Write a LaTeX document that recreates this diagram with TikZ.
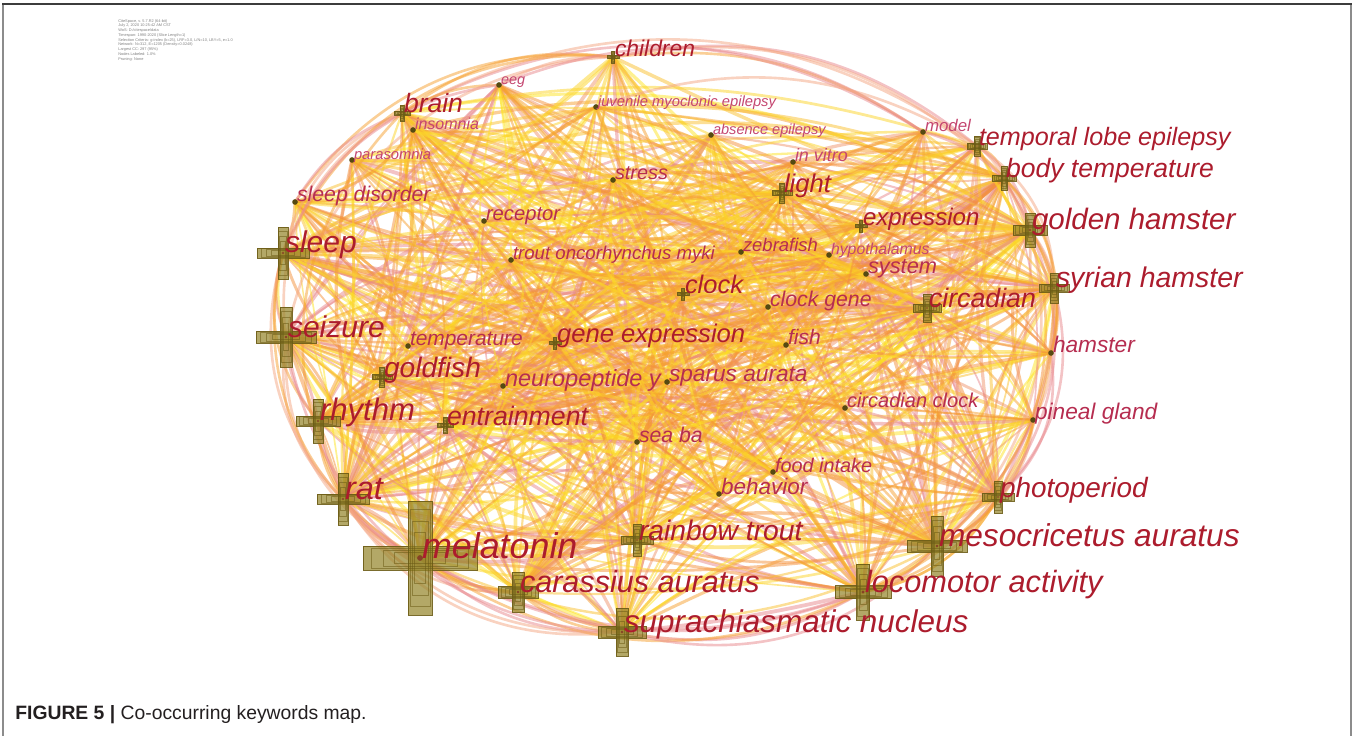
\documentclass[tikz,border=0pt]{standalone}
\usepackage{fontspec}
\setmainfont{Liberation Sans}
\usepackage{xcolor}

\definecolor{kwdark}{RGB}{172,28,45}
\definecolor{kwmid}{RGB}{182,45,80}
\definecolor{kwpink}{RGB}{196,70,112}
\definecolor{ec1}{RGB}{253,228,35}
\definecolor{ec2}{RGB}{252,212,40}
\definecolor{ec3}{RGB}{250,192,45}
\definecolor{ec4}{RGB}{246,160,48}
\definecolor{ec5}{RGB}{244,145,60}
\definecolor{ec6}{RGB}{240,150,110}
\definecolor{ec7}{RGB}{232,135,140}
\definecolor{ringcol}{RGB}{244,165,130}
\definecolor{crossfill}{RGB}{150,134,44}
\definecolor{crossline}{RGB}{108,92,22}
\definecolor{framedark}{RGB}{60,60,60}
\definecolor{framegray}{RGB}{140,140,140}
\definecolor{capgray}{RGB}{35,31,32}

\tikzstyle{edge} = [line cap=round, draw opacity=0.5]
\tikzstyle{cross} = [fill=crossfill, fill opacity=0.72, draw=crossline, draw opacity=0.9, line width=0.4pt]
\tikzstyle{ring} = [crossline, line width=0.3pt, opacity=0.55]
\tikzstyle{dot} = [fill=crossline!80!black, draw=none]
\tikzstyle{kwlabel} = [anchor=base west, inner sep=0pt, outer sep=0pt, xshift=0.4mm]

% name/x/y/arm/bar/size/colour/text  (first 20 are the hubs)
\def\kwlist{melatonin/420/558/57/24/20.4/kwdark/melatonin,
  suprachiasmatic/622/632/24/12/17.9/kwdark/suprachiasmatic nucleus,
  locomotor/863/592/28/13/17.5/kwdark/locomotor activity,
  mesocricetus/937/546/30/12/18/kwdark/mesocricetus auratus,
  carassius/518/592/20/12/17.4/kwdark/carassius auratus,
  rat/343/499/26/10/18.5/kwdark/rat,
  rhythm/318/421/22/10/17.7/kwdark/rhythm,
  seizure/286/337/30/12/17.1/kwdark/seizure,
  sleep/283/253/26/10/17.1/kwdark/sleep,
  goldenhamster/1030/230/17/10/16.8/kwdark/golden hamster,
  syrianhamster/1054/288/15/8/16.2/kwdark/syrian hamster,
  circadian/927/308/14/8/15.2/kwdark/circadian,
  light/782/193/10/5/14.6/kwdark/light,
  goldfish/382/377/10/5/16/kwdark/goldfish,
  rainbowtrout/637/540/16/8/16.1/kwdark/rainbow trout,
  photoperiod/998/497/16/8/15.9/kwdark/photoperiod,
  bodytemperature/1004/178/12/6/15.1/kwdark/body temperature,
  geneexpression/555/343/6/3/14.6/kwdark/gene expression,
  clock/683/294/6/3/14.5/kwdark/clock,
  entrainment/445/425/8/4/15.2/kwdark/entrainment,
  temporallobe/977/146/10/6/14.3/kwdark/temporal lobe epilepsy,
  children/613/57/6/3/13/kwdark/children,
  brain/402/113/8/4/15.1/kwdark/brain,
  expression/861/226/6/3/13.7/kwdark/expression,
  hamster/1051/353/0/0/12.9/kwmid/hamster,
  pinealgland/1033/420/0/0/12.9/kwmid/pineal gland,
  model/923/132/0/0/9.6/kwpink/model,
  eeg/499/85/0/0/8.2/kwpink/eeg,
  insomnia/413/130/0/0/9.1/kwpink/insomnia,
  parasomnia/352/160/0/0/8.4/kwpink/parasomnia,
  sleepdisorder/295/202/0/0/12.1/kwmid/sleep disorder,
  juvenile/596/107/0/0/8.4/kwpink/juvenile myoclonic epilepsy,
  absence/711/135/0/0/8.3/kwpink/absence epilepsy,
  invitro/793/162/0/0/10.2/kwpink/in vitro,
  stress/613/180/0/0/11.3/kwmid/stress,
  receptor/484/221/0/0/11.5/kwmid/receptor,
  zebrafish/741/252/0/0/10.5/kwmid/zebrafish,
  hypothalamus/829/255/0/0/9/kwpink/hypothalamus,
  trout/511/260/0/0/10.6/kwmid/trout oncorhynchus myki,
  system/866/274/0/0/12.4/kwmid/system,
  clockgene/768/307/0/0/12.1/kwmid/clock gene,
  temperature/408/346/0/0/11.9/kwmid/temperature,
  fish/786/345/0/0/12/kwmid/fish,
  neuropeptide/503/386/0/0/13.4/kwmid/neuropeptide y,
  sparus/667/382/0/0/12.9/kwmid/sparus aurata,
  circadianclock/845/408/0/0/11.4/kwmid/circadian clock,
  seaba/637/442/0/0/12.1/kwmid/sea ba,
  foodintake/773/472/0/0/11.3/kwmid/food intake,
  behavior/719/494/0/0/12.8/kwmid/behavior}

\begin{document}
\begin{tikzpicture}[x=0.2mm, y=-0.2mm]
        \useasboundingbox (0,0) rectangle (1357,736);

        % Frame and caption
        \draw[framegray, line width=1.1pt] (3,4) -- (3,736);
        \draw[framegray, line width=1.1pt] (1351,4) -- (1351,736);
        \draw[framedark, line width=1.1pt] (2,4) -- (1352,4);
        \node[anchor=base west, inner sep=0pt, text=capgray, font=\fontsize{11}{11}\selectfont] (caption) at (15,719)
            {\textbf{FIGURE 5 |} Co-occurring keywords map.};
        \node[anchor=north west, inner sep=0pt, align=left, text=gray, font=\fontsize{2.2}{2.7}\selectfont] (header) at (118,19)
            {CiteSpace, v. 5.7.R2 (64-bit)\\ July 2, 2020 10:25:42 AM CST\\ WoS: D:/citespace/data\\
             Timespan: 1990-2020 (Slice Length=1)\\ Selection Criteria: g-index (k=25), LRF=3.0, L/N=10, LBY=5, e=1.0\\
             Network: N=312, E=1205 (Density=0.0248)\\ Largest CC: 297 (95\%)\\ Nodes Labeled: 1.0\%\\ Pruning: None};

        % Keyword positions
        \foreach \nm/\x/\y/\arm/\bw/\fs/\col/\txt [count=\i from 0] in \kwlist {
            \coordinate[alias=n\i] (\nm) at (\x,\y);
        }

        % Links from the hubs
        \pgfmathsetseed{11}
        \foreach \k in {1,...,540} {
            \pgfmathrandominteger{\a}{0}{19}
            \pgfmathrandominteger{\b}{0}{48}
            \pgfmathtruncatemacro\b{\a==\b ? mod(\b+5,49) : \b}
            \pgfmathrandominteger{\c}{1}{7}
            \pgfmathrandominteger{\bend}{-28}{28}
            \pgfmathsetmacro\w{0.9+1.3*rnd}
            \draw[edge, ec\c, line width=\w pt] (n\a) to[bend left=\bend] (n\b);
        }
        % Links between the other keywords
        \foreach \k in {1,...,200} {
            \pgfmathrandominteger{\a}{20}{48}
            \pgfmathrandominteger{\b}{0}{48}
            \pgfmathtruncatemacro\b{\a==\b ? mod(\b+3,49) : \b}
            \pgfmathrandominteger{\c}{1}{5}
            \pgfmathrandominteger{\bend}{-25}{25}
            \pgfmathsetmacro\w{0.8+1.2*rnd}
            \draw[edge, ec\c, line width=\w pt] (n\a) to[bend left=\bend] (n\b);
        }

        % Outer ring
        \foreach \p/\q/\ang [count=\j] in {children/model/20, children/temporallobe/25, children/bodytemperature/28,
            brain/children/22, brain/model/30, brain/temporallobe/32, sleepdisorder/children/30, sleepdisorder/brain/18,
            sleep/brain/25, sleep/children/35, seizure/sleep/20, seizure/brain/35, rhythm/sleep/28, rhythm/seizure/18,
            rat/seizure/28, rat/rhythm/16, melatonin/rhythm/28, melatonin/seizure/35, melatonin/sleep/38, melatonin/rat/15,
            carassius/rat/30, carassius/melatonin/15, suprachiasmatic/melatonin/22, suprachiasmatic/rat/32,
            suprachiasmatic/carassius/18, locomotor/suprachiasmatic/20, locomotor/carassius/28, locomotor/melatonin/30,
            mesocricetus/suprachiasmatic/30, mesocricetus/locomotor/15, photoperiod/locomotor/25, photoperiod/mesocricetus/15,
            pinealgland/photoperiod/20, pinealgland/mesocricetus/28, hamster/photoperiod/28, hamster/pinealgland/15,
            syrianhamster/hamster/15, syrianhamster/photoperiod/30, goldenhamster/syrianhamster/15, goldenhamster/hamster/22,
            goldenhamster/photoperiod/30, bodytemperature/goldenhamster/15, bodytemperature/syrianhamster/22,
            temporallobe/goldenhamster/22, temporallobe/bodytemperature/12, model/bodytemperature/20, model/goldenhamster/28,
            temporallobe/syrianhamster/28, bodytemperature/hamster/28, syrianhamster/mesocricetus/25,
            goldenhamster/mesocricetus/30, hamster/locomotor/30, suprachiasmatic/seizure/40, eeg/children/15,
            brain/eeg/15, melatonin/suprachiasmatic/30, rat/sleep/30, carassius/suprachiasmatic/-10,
            sleep/eeg/30, seizure/children/38, rat/brain/36, eeg/model/28, juvenile/temporallobe/25,
            locomotor/photoperiod/-20, melatonin/locomotor/-25, rat/suprachiasmatic/-28, syrianhamster/locomotor/32} {
            \pgfmathtruncatemacro\c{mod(\j,3)}
            \ifnum\c=0 \def\rc{ringcol}\else\ifnum\c=1 \def\rc{ec4}\else\def\rc{ec7}\fi\fi
            \draw[edge, \rc, line width=1.5pt] (\p) to[bend left=\ang] (\q);
        }

        % Node markers
        \foreach \nm/\x/\y/\arm/\bw/\fs/\col/\txt in \kwlist {
            \ifnum\arm>0
                \path[cross] (\x-\arm,\y-\bw/2) rectangle (\x+\arm,\y+\bw/2);
                \path[cross] (\x-\bw/2,\y-\arm) rectangle (\x+\bw/2,\y+\arm);
                \foreach \s in {0.85,0.65,0.45} {
                    \draw[ring] (\x-\s*\arm,\y-0.5*\s*\bw) rectangle (\x+\s*\arm,\y+0.5*\s*\bw);
                    \draw[ring] (\x-0.5*\s*\bw,\y-\s*\arm) rectangle (\x+0.5*\s*\bw,\y+\s*\arm);
                }
                \fill[kwdark!70!black, opacity=0.6] (\nm) circle (0.12*\bw);
            \else
                \fill[dot] (\nm) circle (1.6pt);
            \fi
        }

        % Keyword labels
        \foreach \nm/\x/\y/\arm/\bw/\fs/\col/\txt in \kwlist {
            \node[kwlabel, text=\col, font=\fontsize{\fs}{\fs}\selectfont\itshape] (\nm-label) at (\nm) {\txt};
        }

    \end{tikzpicture}
\end{document}
